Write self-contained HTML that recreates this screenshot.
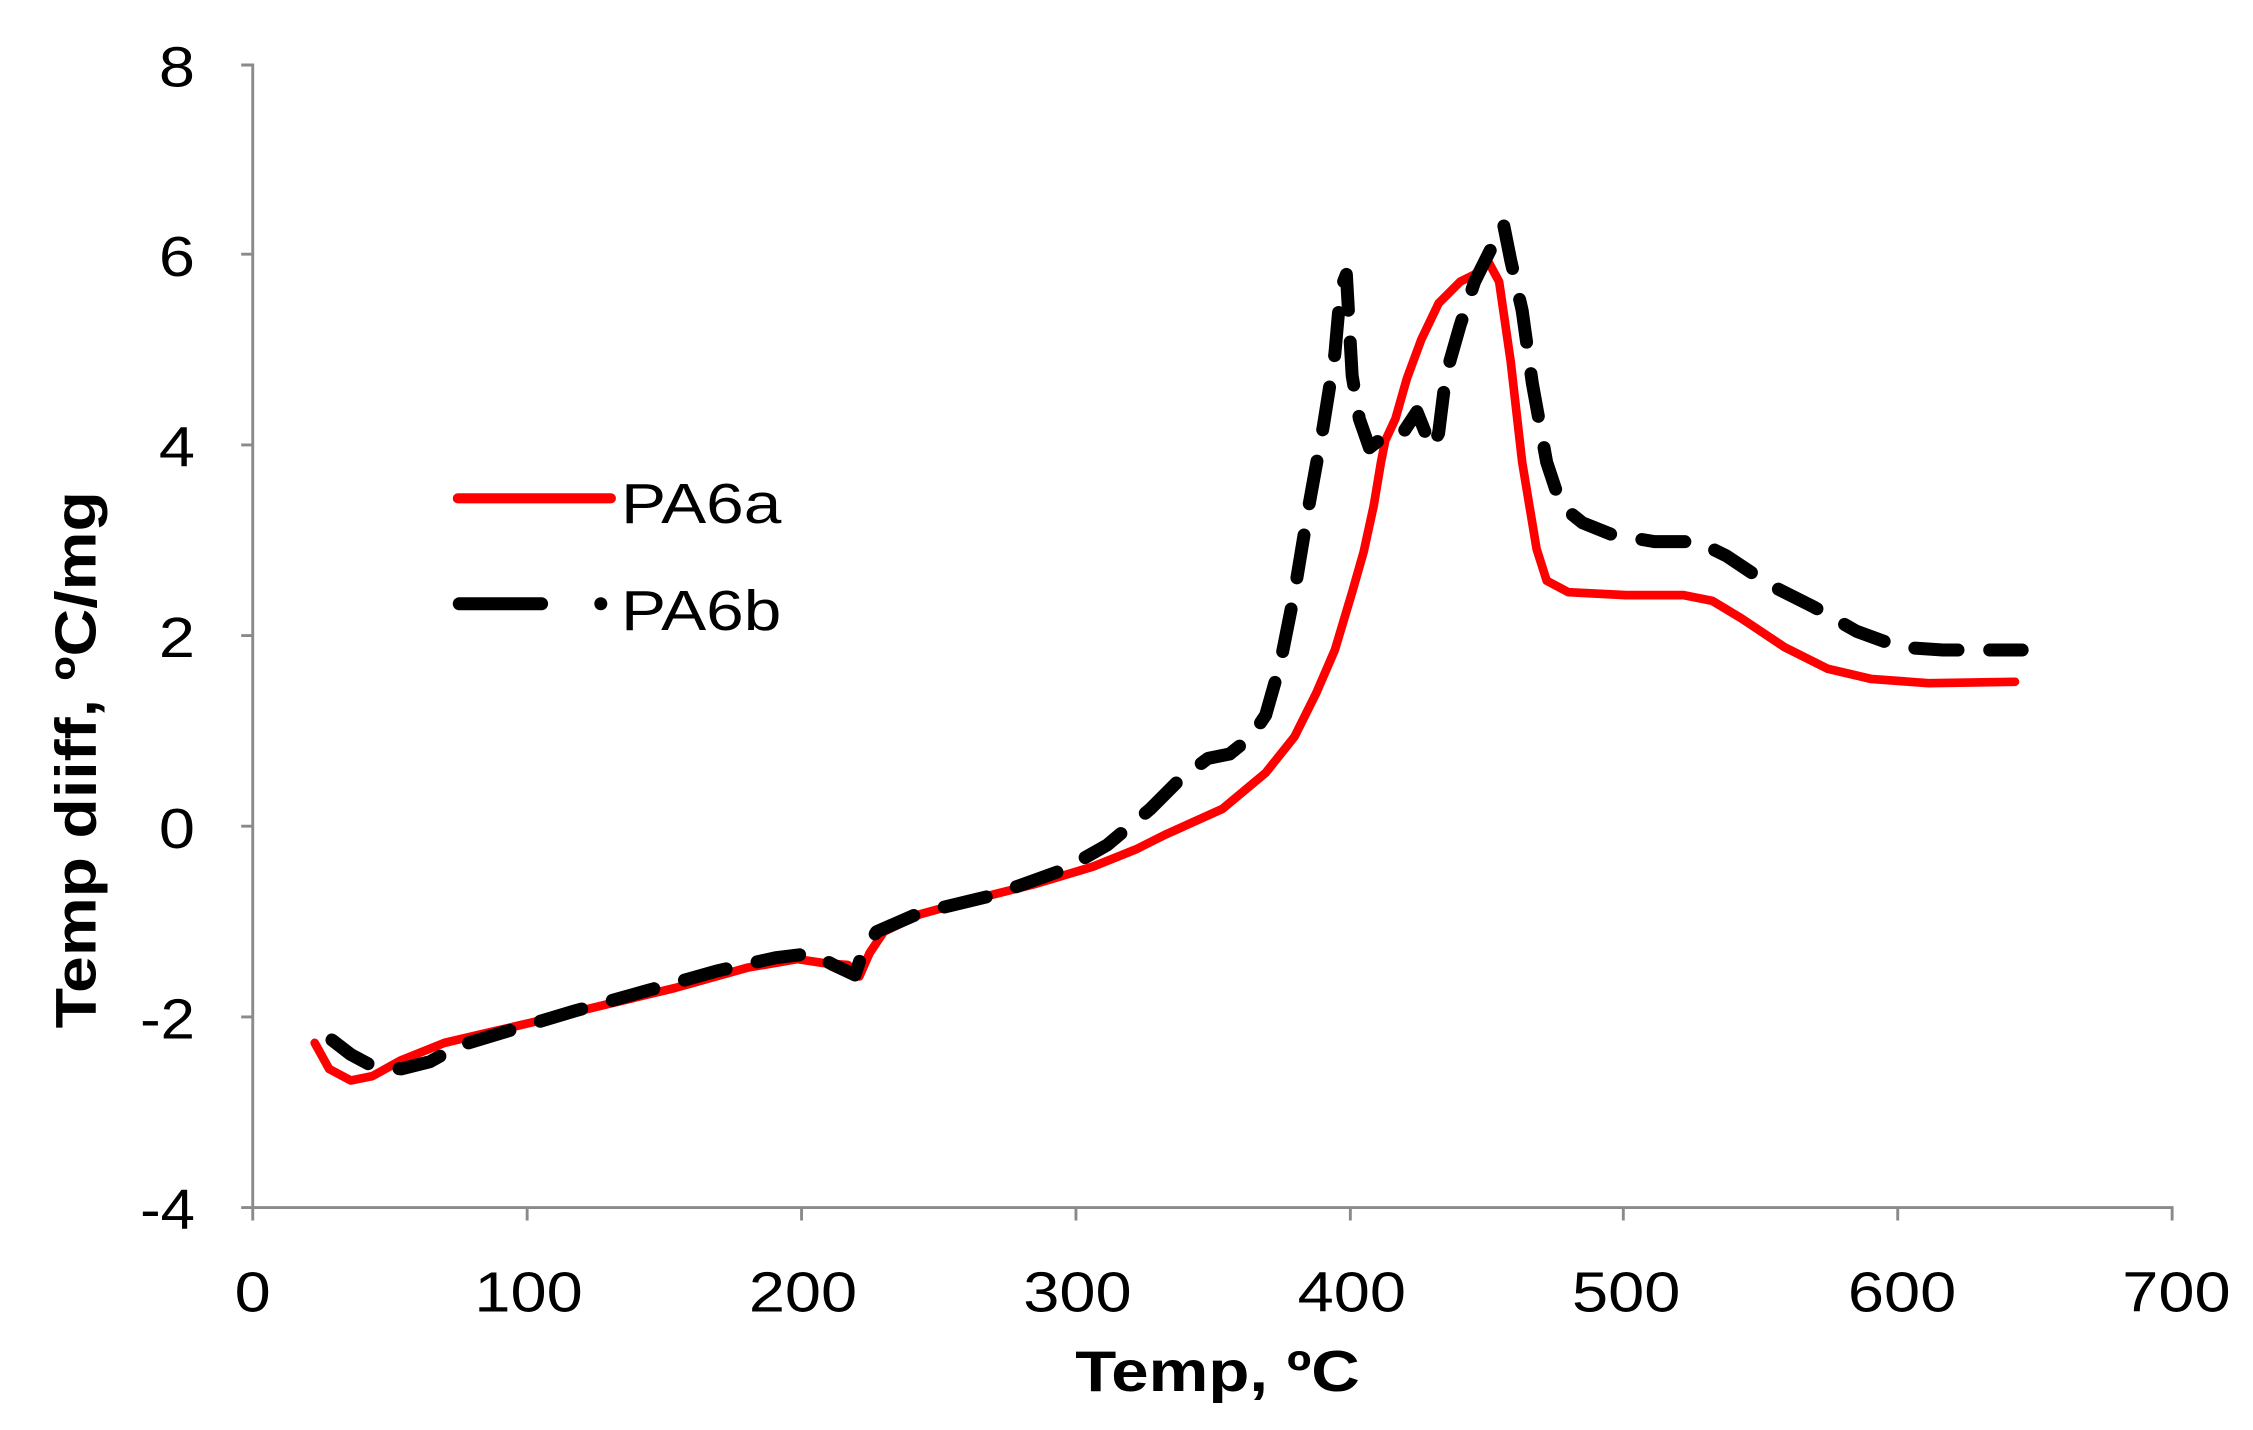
<!DOCTYPE html>
<html><head><meta charset="utf-8"><style>html,body{margin:0;padding:0;background:#fff}svg{display:block}</style></head>
<body>
<svg width="2253" height="1430" viewBox="0 0 1560 990" preserveAspectRatio="none" xmlns="http://www.w3.org/2000/svg" font-family="Liberation Sans, Arial, sans-serif">
<g stroke="#8a8a8a" stroke-width="2" fill="none">
<line x1="175" y1="44" x2="175" y2="837"/>
<line x1="174" y1="836" x2="1505" y2="836"/>
<path d="M167 45H175M167 176H175M167 308H175M167 440H175M167 572H175M167 704H175M167 836H175"/>
<path d="M175 836V845M365 836V845M555 836V845M745 836V845M935 836V845M1124 836V845M1314 836V845M1504 836V845"/>
</g>
<g font-size="39" fill="#000" text-anchor="end" lengthAdjust="spacingAndGlyphs">
<text x="135" y="60" textLength="25" lengthAdjust="spacingAndGlyphs">8</text>
<text x="135" y="191" textLength="25" lengthAdjust="spacingAndGlyphs">6</text>
<text x="135" y="323" textLength="25" lengthAdjust="spacingAndGlyphs">4</text>
<text x="135" y="455" textLength="25" lengthAdjust="spacingAndGlyphs">2</text>
<text x="135" y="587" textLength="25" lengthAdjust="spacingAndGlyphs">0</text>
<text x="135" y="719" textLength="38" lengthAdjust="spacingAndGlyphs">-2</text>
<text x="135" y="851" textLength="38" lengthAdjust="spacingAndGlyphs">-4</text>
</g>
<g font-size="39" fill="#000" text-anchor="middle">
<text x="175" y="908" textLength="25" lengthAdjust="spacingAndGlyphs">0</text>
<text x="366" y="908" textLength="75" lengthAdjust="spacingAndGlyphs">100</text>
<text x="556" y="908" textLength="75" lengthAdjust="spacingAndGlyphs">200</text>
<text x="746" y="908" textLength="75" lengthAdjust="spacingAndGlyphs">300</text>
<text x="936" y="908" textLength="75" lengthAdjust="spacingAndGlyphs">400</text>
<text x="1126" y="908" textLength="75" lengthAdjust="spacingAndGlyphs">500</text>
<text x="1317" y="908" textLength="75" lengthAdjust="spacingAndGlyphs">600</text>
<text x="1507" y="908" textLength="75" lengthAdjust="spacingAndGlyphs">700</text>
</g>
<text x="843" y="963" font-size="40" font-weight="bold" text-anchor="middle" textLength="197" lengthAdjust="spacingAndGlyphs">Temp, ºC</text>
<text transform="translate(66,526) rotate(-90)" font-size="40" font-weight="bold" text-anchor="middle" textLength="372" lengthAdjust="spacingAndGlyphs">Temp diiff, ºC/mg</text>
<g transform="matrix(0.9977 0 0 1 -1.6 0)">
<polyline fill="none" stroke="#ff0000" stroke-width="6" stroke-linejoin="round" stroke-linecap="round" points="220,722 230,740 245,748 260,745 280,734 310,722 340,715 370,708 420,696 470,684 520,670 555,664 575,667 590,668 598,676 605,660 615,645 640,633 680,622 720,612 760,600 790,588 810,578 850,560 880,535 900,510 915,480 928,450 940,410 948,382 955,350 960,320 963,305 970,290 978,262 988,235 1000,210 1015,195 1025,190 1035,182 1042,195 1050,250 1058,320 1068,380 1075,402 1090,410 1130,412 1170,412 1190,416 1210,428 1240,448 1270,463 1300,470 1340,473 1400,472"/>
<polyline fill="none" stroke="#000" stroke-width="9" stroke-linecap="round" stroke-linejoin="round" stroke-dasharray="30,22" points="232,720 245,730 260,738 280,740 300,735 320,724 350,715 400,700 450,686 500,672 540,663 565,660 580,668 595,675 600,660 610,645 640,632 690,620 740,602 770,585 800,560 820,540 840,525 855,522 870,510 880,495 890,460 900,410 910,350 920,295 928,245 932,200 936,190 940,260 945,290 952,310 965,300 975,300 985,285 995,310 1000,300 1005,260 1015,225 1025,195 1035,175 1045,155 1050,180 1058,215 1065,265 1075,320 1085,350 1100,362 1120,370 1150,375 1180,375 1200,385 1230,405 1260,420 1290,437 1320,448 1350,450 1405,450"/>
</g>
<line x1="317" y1="345" x2="423" y2="345" stroke="#ff0000" stroke-width="7" stroke-linecap="round"/>
<text x="430" y="362" font-size="39" textLength="111" lengthAdjust="spacingAndGlyphs">PA6a</text>
<line x1="318" y1="418" x2="375" y2="418" stroke="#000" stroke-width="9" stroke-linecap="round"/>
<circle cx="416" cy="418" r="4.5" fill="#000"/>
<text x="430" y="436" font-size="39" textLength="111" lengthAdjust="spacingAndGlyphs">PA6b</text>
</svg>
</body></html>
